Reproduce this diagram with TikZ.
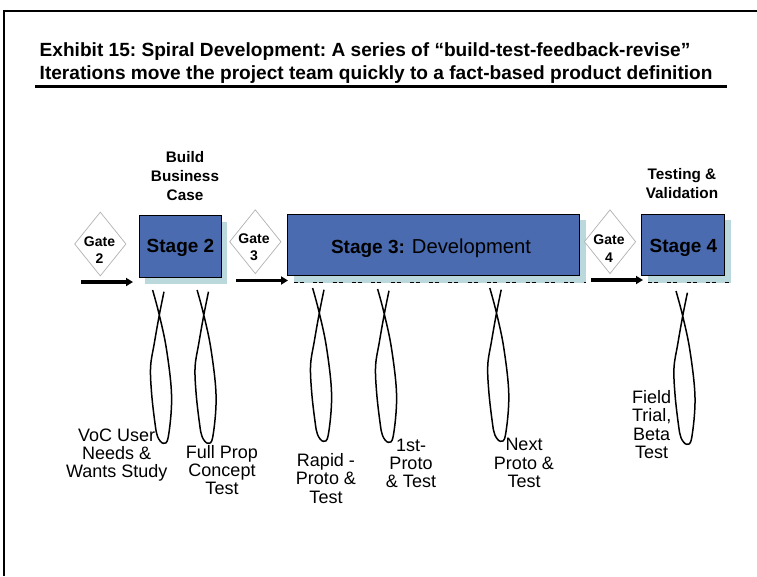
\documentclass[tikz,border=0pt]{standalone}
\usepackage{fontspec}
\setmainfont{Liberation Sans}
\usetikzlibrary{arrows.meta,shapes.geometric}
\definecolor{stageblue}{HTML}{4A6BB0}
\definecolor{shadowteal}{HTML}{BBD8DC}
\newcommand{\fs}[2]{\fontsize{#1}{#2}\selectfont}
\tikzset{
  x=1pt,y=-1pt,
  stagebox/.style={draw=black,line width=1.2pt,fill=stageblue,inner sep=0pt},
  shadowbox/.style={fill=shadowteal,draw=none},
  dashrow/.style={line width=1pt,dash pattern=on 4pt off 2pt on 4pt off 9.3pt},
  gate/.style={diamond,draw=black!30,line width=.7pt,fill=white,aspect=.81,minimum width=51.5pt,minimum height=64pt,inner sep=0pt},
  gatelabel/.style={align=center,font=\bfseries\fs{14}{17.3}},
  stagelabel/.style={font=\bfseries\fs{19}{20}},
  heading/.style={font=\bfseries\fs{15.3}{19},align=center},
  note/.style={font=\fs{18}{18.3},align=center},
  titleline/.style={anchor=west,inner sep=0pt,font=\frenchspacing\bfseries\fs{19.1}{20}},
  flow/.style={line width=3.4pt,-{Triangle[length=7pt,width=8pt]}},
  spiral/.pic={
    \draw[line width=1.5pt,black] plot[smooth,tension=.6] coordinates {
      (4.7,-23.3) (0,0) (-5,28.3) (-8.7,51.7) (-7.7,78.3) (-4.3,108.3) (-1.7,121.7)
      (4,128.3) (9,121.7) (12.3,81.7) (7.3,35) (0,0) (-6.7,-25)};
  }
}
\begin{document}
\begin{tikzpicture}
\useasboundingbox (0,0) rectangle (757,576);
\fill[white] (0,0) rectangle (757,576);
\draw[line width=2.3pt] (4,576) -- (4,11) -- (757,11);
\node[titleline] (titleA) at (39.5,52) {Exhibit 15: Spiral Development: A series of “build-test-feedback-revise”};
\node[titleline] (titleB) at (39.5,74.5) {Iterations move the project team quickly to a fact-based product definition};
\draw[line width=3pt] (35,86) -- (727,86);

\fill[shadowbox] (145,222) rectangle (227,284);
\fill[shadowbox] (294,220) rectangle (586,282.5);
\fill[shadowbox] (648,220) rectangle (731,282.5);
\draw[dashrow] (294,282) -- (586,282);
\draw[dashrow] (648,282) -- (731,282);

\node[stagebox,minimum width=82.4pt,minimum height=62pt] (s2) at (180.5,246.3) {};
\node[stagebox,minimum width=292pt,minimum height=61pt] (s3) at (433.3,244.8) {};
\node[stagebox,minimum width=83.4pt,minimum height=61pt] (s4) at (683,244.8) {};
\node[stagelabel] (stageTwo) at (180.5,247.5) {Stage 2};
\node[stagelabel] (stageThree) at (431,248.5) {Stage 3: {\mdseries\fs{20.2}{20}Development}};
\node[stagelabel] (stageFour) at (683.5,247.5) {Stage 4};

\node[gate] (g2) at (100.3,244) {};
\node[gate] (g3) at (255.3,241.7) {};
\node[gate] (g4) at (610,241.7) {};
\node[gatelabel] (g2t) at (99.5,250) {Gate\\2};
\node[gatelabel] (g3t) at (254,247.5) {Gate\\3};
\node[gatelabel] (g4t) at (609,248.5) {Gate\\4};

\coordinate (a1s) at (81,282); \coordinate (a1e) at (133,282);
\coordinate (a2s) at (236,280.5); \coordinate (a2e) at (288,280.5);
\coordinate (a3s) at (591,280); \coordinate (a3e) at (643,280);
\draw[flow] (a1s) -- (a1e);
\draw[flow] (a2s) -- (a2e);
\draw[flow] (a3s) -- (a3e);

\node[heading] (hBuild) at (185,176.5) {Build\\Business\\Case};
\node[heading] (hTest) at (682,183.5) {Testing \&\\Validation};

\pic at (159.3,315) {spiral};
\pic at (203.8,315) {spiral};
\pic at (319.3,313) {spiral};
\pic at (384.3,314) {spiral};
\pic at (496.5,313) {spiral};
\pic at (682.7,316) {spiral};

\node[note] (n1) at (116.7,455) {VoC User\\Needs \&\\Wants Study};
\node[note] (n2) at (222,470) {Full Prop\\Concept\\Test};
\node[note] (n3) at (326,478.5) {Rapid -\\Proto \&\\Test};
\node[note] (n4) at (411,463.5) {1st-\\Proto\\\& Test};
\node[note] (n5) at (524,463) {Next\\Proto \&\\Test};
\node[note] (n6) at (651.7,424.5) {Field\\Trial,\\Beta\\Test};
\end{tikzpicture}
\end{document}
